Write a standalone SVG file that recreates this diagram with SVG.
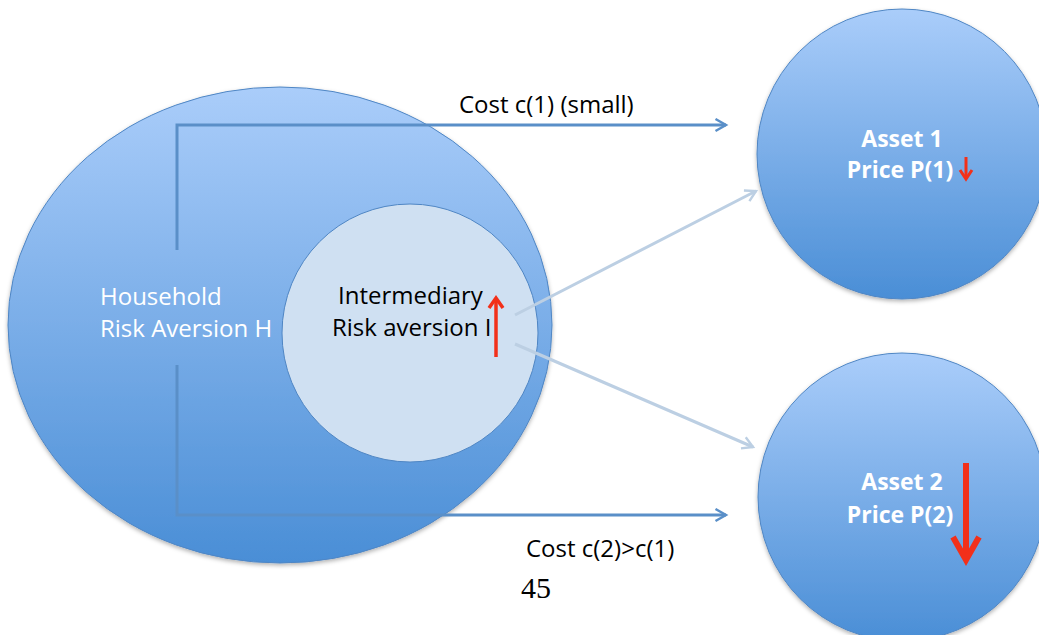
<svg xmlns="http://www.w3.org/2000/svg" width="1039" height="635" viewBox="0 0 1039 635">
<defs>
<linearGradient id="blue" x1="0" y1="0" x2="0" y2="1">
<stop offset="0" stop-color="#aacdfa"/>
<stop offset="1" stop-color="#4a8ed6"/>
</linearGradient>
<marker id="ahb" viewBox="0 0 10 10" refX="8" refY="5" markerWidth="5" markerHeight="5" orient="auto" markerUnits="strokeWidth">
<path d="M1,1 L8,5 L1,9" fill="none" stroke-width="1.6" stroke="#5a8fc8"/>
</marker>
<marker id="ahg" viewBox="0 0 10 10" refX="8" refY="5" markerWidth="5" markerHeight="5" orient="auto" markerUnits="strokeWidth">
<path d="M1,1 L8,5 L1,9" fill="none" stroke-width="1.6" stroke="#bccfe3"/>
</marker>
<filter id="sh" x="-10%" y="-10%" width="120%" height="120%">
<feDropShadow dx="0" dy="2" stdDeviation="2" flood-color="#000" flood-opacity="0.3"/>
</filter>
</defs>
<style>
.t{font-family:"Open Sans","Liberation Sans",Arial,sans-serif;font-size:24px}
.w{fill:#ffffff}
.k{fill:#000000}
.b{font-weight:bold;font-size:23px}
.blu{stroke:#5a8fc8;stroke-width:3;fill:none}
.gry{stroke:#bccfe3;stroke-width:3;fill:none}
.red{stroke:#f2301a;fill:none}
</style>
<g id="household">
<ellipse cx="280" cy="325" rx="272" ry="238" fill="url(#blue)" stroke="#4f86c4" stroke-width="1" filter="url(#sh)"/>
<text class="t w" x="100" y="305">Household</text>
<text class="t w" x="100" y="337">Risk Aversion H</text>
</g>
<g id="intermediary">
<ellipse cx="410" cy="333" rx="128" ry="129" fill="#cfe0f2" stroke="#4f86c4" stroke-width="1"/>
<text class="t k" x="338" y="304">Intermediary</text>
<text class="t k" x="332" y="336">Risk aversion I</text>
<g class="red" stroke-width="3.5">
<line x1="496" y1="357" x2="496" y2="299"/>
<polyline points="489,308 496,298 503,308"/>
</g>
</g>
<g id="asset1">
<circle cx="902" cy="154" r="145" fill="url(#blue)" stroke="#4f86c4" stroke-width="1" filter="url(#sh)"/>
<text class="t w b" x="902" y="147" text-anchor="middle">Asset 1</text>
<text class="t w b" x="900" y="178" text-anchor="middle">Price P(1)</text>
<g class="red" stroke-width="3">
<line x1="966" y1="157" x2="966" y2="177"/>
<polyline points="960,170 966,179 972,170"/>
</g>
</g>
<g id="asset2">
<circle cx="902" cy="497" r="144" fill="url(#blue)" stroke="#4f86c4" stroke-width="1" filter="url(#sh)"/>
<text class="t w b" x="902" y="490" text-anchor="middle">Asset 2</text>
<text class="t w b" x="900" y="523" text-anchor="middle">Price P(2)</text>
<g class="red" stroke-width="6">
<line x1="966" y1="463" x2="966" y2="558"/>
<polyline points="953,537 966,560 979,537"/>
</g>
</g>
<g id="connectors">
<polyline class="blu" points="177,250 177,125 726,125" marker-end="url(#ahb)"/>
<polyline class="blu" points="177,365 177,515 726,515" marker-end="url(#ahb)"/>
<line class="gry" x1="515" y1="315" x2="756" y2="191" marker-end="url(#ahg)"/>
<line class="gry" x1="515" y1="344" x2="753" y2="447" marker-end="url(#ahg)"/>
<text class="t k" x="459" y="113">Cost c(1) (small)</text>
<text class="t k" x="526" y="557">Cost c(2)&gt;c(1)</text>
</g>
<text x="536" y="598" text-anchor="middle" style="font-family:'Liberation Serif','Times New Roman',serif;font-size:30px" fill="#000">45</text>
</svg>
